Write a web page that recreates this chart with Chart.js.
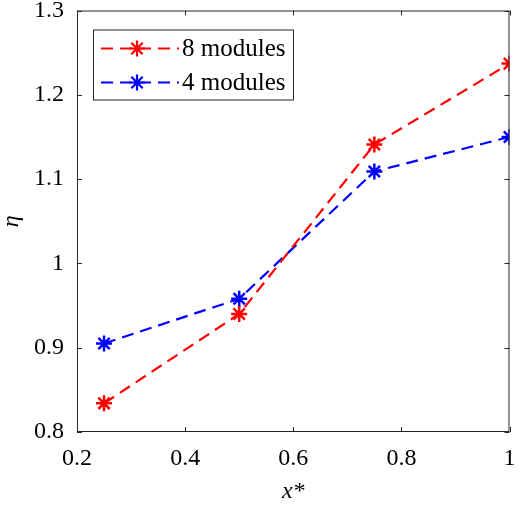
<!DOCTYPE html>
<html>
<head>
<meta charset="utf-8">
<script src="https://cdn.jsdelivr.net/npm/chart.js@4/dist/chart.umd.min.js"></script>
<style>
  html, body { margin: 0; padding: 0; background: #fff; }
  #wrap { width: 520px; height: 508px; }
</style>
</head>
<body>
<div id="wrap"><canvas id="c" width="520" height="508"></canvas></div>
<script>
// --- data ---
const xValues = [0.25, 0.5, 0.75, 1];
const eta8 = [0.834, 0.940, 1.141, 1.237];
const eta4 = [0.905, 0.958, 1.109, 1.150];
const xTicks = [0.2, 0.4, 0.6, 0.8, 1];
const yTicks = [0.8, 0.9, 1, 1.1, 1.2, 1.3];
const seriesNames = ['8 modules', '4 modules'];

const AXIS = '#262626';
const FONT = "'Liberation Serif', 'Times New Roman', Times, serif";

// --- 邊框、內向刻度、圖例 ---
const boxPlugin = {
    id: 'boxPlugin',
    afterDraw(chart) {
        const ctx = chart.ctx;
        const a = chart.chartArea;
        const xs = chart.scales.x, ys = chart.scales.y;
        ctx.save();
        ctx.strokeStyle = AXIS;
        ctx.lineWidth = 1;
        ctx.setLineDash([]);
        ctx.strokeRect(a.left + 0.5, a.top + 0.5, a.right - a.left - 1, a.bottom - a.top - 1);
        const len = 5;
        ctx.beginPath();
        xTicks.forEach(v => {
            const px = Math.round(xs.getPixelForValue(v)) + 0.5;
            ctx.moveTo(px, a.bottom); ctx.lineTo(px, a.bottom - len);
            ctx.moveTo(px, a.top); ctx.lineTo(px, a.top + len);
        });
        yTicks.forEach(v => {
            const py = Math.round(ys.getPixelForValue(v)) + 0.5;
            ctx.moveTo(a.left, py); ctx.lineTo(a.left + len, py);
            ctx.moveTo(a.right, py); ctx.lineTo(a.right - len, py);
        });
        ctx.stroke();

        // 圖例
        const lx = a.left + 16, ly = a.top + 19, lw = 200, lh = 70;
        ctx.fillStyle = '#fff';
        ctx.fillRect(lx, ly, lw, lh);
        ctx.strokeStyle = AXIS;
        ctx.strokeRect(lx + 0.5, ly + 0.5, lw, lh);
        chart.data.datasets.forEach((ds, i) => {
            const cy = ly + 19 + i * 34;
            ctx.strokeStyle = ds.borderColor;
            ctx.lineWidth = ds.borderWidth;
            ctx.setLineDash(ds.borderDash);
            ctx.beginPath();
            ctx.moveTo(lx + 8, cy); ctx.lineTo(lx + 86, cy);
            ctx.stroke();
            ctx.setLineDash([]);
            Chart.helpers.drawPoint(ctx, {
                pointStyle: ds.pointStyle, radius: ds.pointRadius, borderWidth: ds.pointBorderWidth
            }, lx + 44, cy);
            ctx.fillStyle = '#000';
            ctx.font = '25px ' + FONT;
            ctx.textBaseline = 'middle';
            ctx.textAlign = 'left';
            ctx.fillText(ds.label, lx + 89, cy + 1);
        });
        ctx.restore();
    }
};

function makeSeries(label, values, color) {
    return {
        label: label,
        data: xValues.map((x, i) => ({ x: x, y: values[i] })),
        borderColor: color,
        backgroundColor: color,
        borderWidth: 2.2,
        borderDash: [12, 7],
        pointStyle: 'star',
        pointRadius: 8,
        pointBorderWidth: 2.5,
        pointBorderColor: color,
        fill: false,
        tension: 0
    };
}

new Chart(document.getElementById('c'), {
    type: 'line',
    data: {
        datasets: [
            makeSeries(seriesNames[0], eta8, '#ff0000'),
            makeSeries(seriesNames[1], eta4, '#0000ff')
        ]
    },
    options: {
        responsive: false,
        animation: false,
        devicePixelRatio: 1,
        layout: { padding: { top: 10, right: 9, left: 0, bottom: 0 } },
        plugins: { legend: { display: false }, tooltip: { enabled: false } },
        scales: {
            x: {
                type: 'linear', min: 0.2, max: 1,
                afterFit(s) { s.height = 76; s.paddingLeft = 0; s.paddingRight = 0; },
                afterBuildTicks(s) { s.ticks = xTicks.map(v => ({ value: v })); },
                grid: { display: false, drawTicks: false },
                border: { display: false },
                ticks: {
                    color: '#000', padding: 12, maxRotation: 0,
                    font: { family: FONT, size: 24 },
                    callback: v => String(Math.round(v * 10) / 10)
                },
                title: {
                    display: true, text: 'x*', color: '#000',
                    font: { family: FONT, size: 24, style: 'italic', lineHeight: 1 },
                    padding: { top: 0, bottom: 4 }
                }
            },
            y: {
                type: 'linear', min: 0.8, max: 1.3,
                afterFit(s) { s.width = 77; s.paddingTop = 0; s.paddingBottom = 0; },
                afterBuildTicks(s) { s.ticks = yTicks.map(v => ({ value: v })); },
                grid: { display: false, drawTicks: false },
                border: { display: false },
                ticks: {
                    color: '#000', padding: 13,
                    font: { family: FONT, size: 24 },
                    callback: v => String(Math.round(v * 10) / 10)
                },
                title: {
                    display: true, text: 'η', color: '#000',
                    font: { family: FONT, size: 24, style: 'italic', lineHeight: 1 },
                    padding: { top: 0, bottom: 0 }
                }
            }
        }
    },
    plugins: [boxPlugin]
});
</script>
</body>
</html>
